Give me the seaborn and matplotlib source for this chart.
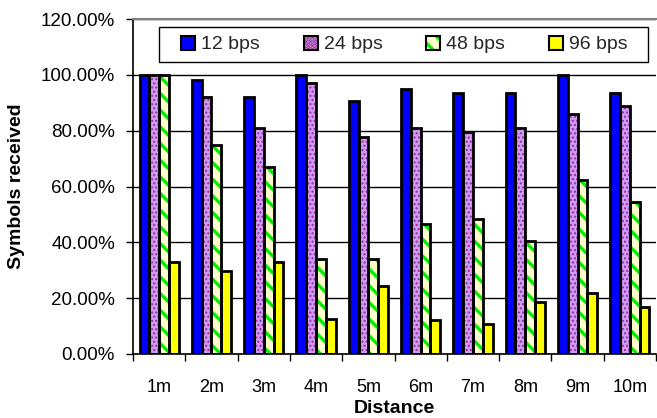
import matplotlib
matplotlib.use("Agg")
import matplotlib.pyplot as plt
from matplotlib.patches import Rectangle, Patch
from matplotlib.ticker import FuncFormatter, MultipleLocator, FixedLocator
import seaborn as sns
import pandas as pd
import numpy as np

# Received-symbol rates (%) per distance and bit rate
distances = ["1m", "2m", "3m", "4m", "5m", "6m", "7m", "8m", "9m", "10m"]
rates = ["12 bps", "24 bps", "48 bps", "96 bps"]
bps12 = [100.0, 98.3, 92.0, 100.0, 90.5, 95.1, 93.6, 93.6, 100.0, 93.6]
bps24 = [100.0, 92.0, 80.9, 96.9, 77.7, 80.8, 79.6, 80.8, 85.8, 89.0]
bps48 = [100.0, 74.7, 67.0, 34.1, 34.0, 46.6, 48.3, 40.5, 62.2, 54.5]
bps96 = [32.9, 29.6, 32.9, 12.4, 24.5, 12.3, 10.7, 18.6, 21.8, 16.8]

series = [bps12, bps24, bps48, bps96]
df = pd.DataFrame({
    "Distance": np.repeat([distances], len(rates), axis=0).ravel(),
    "Rate": np.repeat(rates, len(distances)),
    "Received": np.concatenate(series),
})

face_colors = ["#0000FF", "#CC99FF", "#FFFFCC", "#FFFF00"]
hatch_colors = ["#0000FF", "#A0307A", "#00EE00", "#FFFF00"]
hatches = [None, "....", "\\\\", None]
hatch_widths = [1.0, 1.0, 2.4, 1.0]

sns.set_theme(style="white")
plt.rcParams["font.family"] = ["Liberation Sans", "DejaVu Sans"]
plt.rcParams["hatch.linewidth"] = 2.4

W, H = 657, 418
fig = plt.figure(figsize=(W / 100, H / 100), dpi=100)
ax = fig.add_axes([133 / W, (H - 354) / H, 523 / W, 335 / H])

sns.barplot(data=df, x="Distance", y="Received", hue="Rate",
            order=distances, hue_order=rates, palette=face_colors,
            width=0.75, ax=ax, legend=False, saturation=1)


def style_fill(p, k):
    p.set_facecolor(face_colors[k])
    p.set_edgecolor(hatch_colors[k])
    p.set_linewidth(0)
    if hatches[k]:
        p.set_hatch(hatches[k])
        if hasattr(p, "set_hatch_linewidth"):
            p.set_hatch_linewidth(hatch_widths[k])


# Pattern fill first, then a black outline on top of every bar
n = len(distances)
for i, patch in enumerate(list(ax.patches[: n * len(rates)])):
    k = i // n
    style_fill(patch, k)
    outline = Rectangle((patch.get_x(), patch.get_y()), patch.get_width(),
                        patch.get_height(), fill=False, edgecolor="black",
                        linewidth=2.0, zorder=patch.get_zorder() + 0.1)
    ax.add_patch(outline)

ax.set_ylim(0, 120)
ax.set_xlim(-0.5, n - 0.5)
ax.yaxis.set_major_locator(MultipleLocator(20))
ax.yaxis.set_major_formatter(FuncFormatter(lambda v, p: f"{v:.2f}%"))
ax.set_axisbelow(True)
ax.grid(axis="y", color="black", linewidth=1.0)
ax.grid(axis="x", visible=False)

# Category boundary ticks on the x axis
ax.xaxis.set_minor_locator(FixedLocator(np.arange(-0.5, n, 1.0)))
ax.tick_params(axis="x", which="major", length=0, labelsize=13, pad=18, colors="black")
ax.tick_params(axis="x", which="minor", length=5, width=1, color="black",
               direction="out", bottom=True)
ax.tick_params(axis="y", which="major", length=5, width=1, color="black",
               direction="out", left=True, labelsize=13.5, pad=8, labelcolor="black")

for side in ["left", "bottom"]:
    ax.spines[side].set_color("black")
    ax.spines[side].set_linewidth(1.2)
ax.spines["top"].set_color("#808080")
ax.spines["top"].set_linewidth(1.5)
ax.spines["right"].set_visible(False)

ax.set_ylabel("Symbols received", fontsize=14, fontweight="bold", color="black")
ax.yaxis.set_label_coords((25 - 133) / 523, 0.5)
ax.set_xlabel("Distance", fontsize=14, fontweight="bold", color="black")
ax.xaxis.set_label_coords(0.5, -(400 - 354) / 335)

# Legend box
box = Rectangle((159 / W, (H - 62) / H), 489 / W, 35 / H, transform=fig.transFigure,
                facecolor="white", edgecolor="black", linewidth=1.0,
                zorder=4, clip_on=False)
ax.add_patch(box)

handles = []
for k in range(len(rates)):
    fill = Patch(facecolor=face_colors[k], edgecolor=hatch_colors[k], linewidth=0,
                 hatch=hatches[k])
    if hatches[k] and hasattr(fill, "set_hatch_linewidth"):
        fill.set_hatch_linewidth(hatch_widths[k])
    edge = Patch(facecolor="none", edgecolor="black", linewidth=1.5)
    handles.append((fill, edge))

leg = ax.legend(handles, rates, ncol=4, loc="center left",
                bbox_to_anchor=(181 / W, 1 - 44.5 / H), bbox_transform=fig.transFigure,
                fontsize=14, frameon=False,
                handlelength=0.72, handleheight=0.72, handletextpad=0.31,
                borderpad=0, columnspacing=2.25, borderaxespad=0)
leg.set_zorder(6)

fig.savefig("out.png", dpi=100)
